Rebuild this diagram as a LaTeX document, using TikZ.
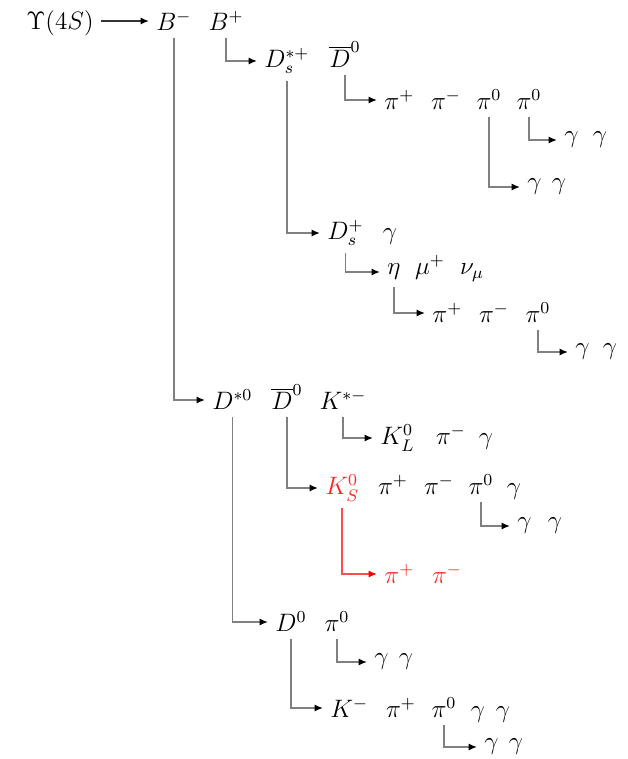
\documentclass[tikz,border=0pt]{standalone}
\usetikzlibrary{arrows.meta}
\begin{document}
\begin{tikzpicture}[x=0.476pt,y=-0.476pt,
  conn/.style={draw=black!50, line width=0.75pt, -{Latex[length=4pt,width=3.4pt,color=black]}},
  redconn/.style={draw=red!70, line width=0.75pt, -{Latex[length=4pt,width=3.4pt,color=red]}},
  ptl/.style={inner sep=3.3pt, font=\large},
  redptl/.style={ptl, text=red!85}]
\useasboundingbox (0,0) rectangle (627,759);

% row 0
\node[ptl,anchor=base] (ups) at (60,30) {$\Upsilon(4S)$};
\node[ptl,anchor=west] (bm) at (149,21) {$B^-$};
\node[ptl,anchor=base] (bp) at (226,0 |- bm.base) {$B^+$};
\draw[conn,draw=black!80] (ups.east |- bm.west) -- (bm.west);

% row 1
\node[ptl,anchor=west] (dss) at (257,61) {$D_s^{*+}$};
\node[ptl,anchor=base] (dbA) at (345,0 |- dss.base) {$\overline{D}^0$};
\draw[conn] (bp.south) |- (dss.west);

% row 2
\node[ptl,anchor=west] (r2a) at (377,100) {$\pi^+$};
\node[ptl,anchor=base] (r2b) at (446,0 |- r2a.base) {$\pi^-$};
\node[ptl,anchor=base] (r2c) at (489,0 |- r2a.base) {$\pi^0$};
\node[ptl,anchor=base] (r2d) at (529,0 |- r2a.base) {$\pi^0$};
\draw[conn] (dbA.south) |- (r2a.west);

% row 3a
\node[ptl,anchor=west] (r3a) at (557,140) {$\gamma$};
\node[ptl,anchor=base] (r3b) at (600,0 |- r3a.base) {$\gamma$};
\draw[conn] (r2d.south) |- (r3a.west);

% row 3b
\node[ptl,anchor=west] (r3c) at (520,187) {$\gamma$};
\node[ptl,anchor=base] (r3d) at (559,0 |- r3c.base) {$\gamma$};
\draw[conn] (r2c.south) |- (r3c.west);

% row 4
\node[ptl,anchor=west] (dsp) at (320,233) {$D_s^+$};
\node[ptl,anchor=base] (r4b) at (390,0 |- dsp.base) {$\gamma$};
\draw[conn] (dss.south) |- (dsp.west);

% row 5
\node[ptl,anchor=west] (eta) at (380,272) {$\eta$};
\node[ptl,anchor=base] (mu) at (430,0 |- eta.base) {$\mu^+$};
\node[ptl,anchor=base] (nu) at (472,0 |- eta.base) {$\nu_\mu$};
\draw[conn] (dsp.south) |- (eta.west);

% row 6
\node[ptl,anchor=west] (r6a) at (425,313) {$\pi^+$};
\node[ptl,anchor=base] (r6b) at (494,0 |- r6a.base) {$\pi^-$};
\node[ptl,anchor=base] (r6c) at (538,0 |- r6a.base) {$\pi^0$};
\draw[conn] (eta.south) |- (r6a.west);

% row 7
\node[ptl,anchor=west] (r7a) at (568,352) {$\gamma$};
\node[ptl,anchor=base] (r7b) at (610,0 |- r7a.base) {$\gamma$};
\draw[conn] (r6c.south) |- (r7a.west);

% row 8
\node[ptl,anchor=west] (dst) at (205,400) {$D^{*0}$};
\node[ptl,anchor=base] (dbB) at (287,0 |- dst.base) {$\overline{D}^0$};
\node[ptl,anchor=base] (kst) at (343,0 |- dst.base) {$K^{*-}$};
\draw[conn] (bm.south) |- (dst.west);

% row 9
\node[ptl,anchor=west] (kl) at (373,438) {$K_L^0$};
\node[ptl,anchor=base] (r9b) at (451,0 |- kl.base) {$\pi^-$};
\node[ptl,anchor=base] (r9c) at (486,0 |- kl.base) {$\gamma$};
\draw[conn] (kst.south) |- (kl.west);

% row 10
\node[redptl,anchor=west] (ks) at (318,488) {$K_S^0$};
\node[ptl,anchor=base] (r10b) at (393,0 |- ks.base) {$\pi^+$};
\node[ptl,anchor=base] (r10c) at (439,0 |- ks.base) {$\pi^-$};
\node[ptl,anchor=base] (r10d) at (481,0 |- ks.base) {$\pi^0$};
\node[ptl,anchor=base] (r10e) at (514,0 |- ks.base) {$\gamma$};
\draw[conn] (dbB.south) |- (ks.west);

% row 11 (red)
\node[redptl,anchor=west] (r11a) at (377,574) {$\pi^+$};
\node[redptl,anchor=base] (r11b) at (447,0 |- r11a.base) {$\pi^-$};
\draw[redconn] (ks.south) |- (r11a.west);

% row 12
\node[ptl,anchor=west] (r12a) at (510,526) {$\gamma$};
\node[ptl,anchor=base] (r12b) at (555,0 |- r12a.base) {$\gamma$};
\draw[conn] (r10d.south) |- (r12a.west);

% row 13
\node[ptl,anchor=west] (dz) at (268,622) {$D^0$};
\node[ptl,anchor=base] (r13b) at (337,0 |- dz.base) {$\pi^0$};
\draw[conn] (dst.south) |- (dz.west);

% row 14
\node[ptl,anchor=west] (r14a) at (367,662) {$\gamma$};
\node[ptl,anchor=base] (r14b) at (406,0 |- r14a.base) {$\gamma$};
\draw[conn] (r13b.south) |- (r14a.west);

% row 15
\node[ptl,anchor=west] (km) at (323,708) {$K^-$};
\node[ptl,anchor=base] (r15b) at (401,0 |- km.base) {$\pi^+$};
\node[ptl,anchor=base] (r15c) at (444,0 |- km.base) {$\pi^0$};
\node[ptl,anchor=base] (r15d) at (478,0 |- km.base) {$\gamma$};
\node[ptl,anchor=base] (r15e) at (503,0 |- km.base) {$\gamma$};
\draw[conn] (dz.south) |- (km.west);

% row 16
\node[ptl,anchor=west] (r16a) at (477,747) {$\gamma$};
\node[ptl,anchor=base] (r16b) at (516,0 |- r16a.base) {$\gamma$};
\draw[conn] (r15c.south) |- (r16a.west);
\end{tikzpicture}
\end{document}
